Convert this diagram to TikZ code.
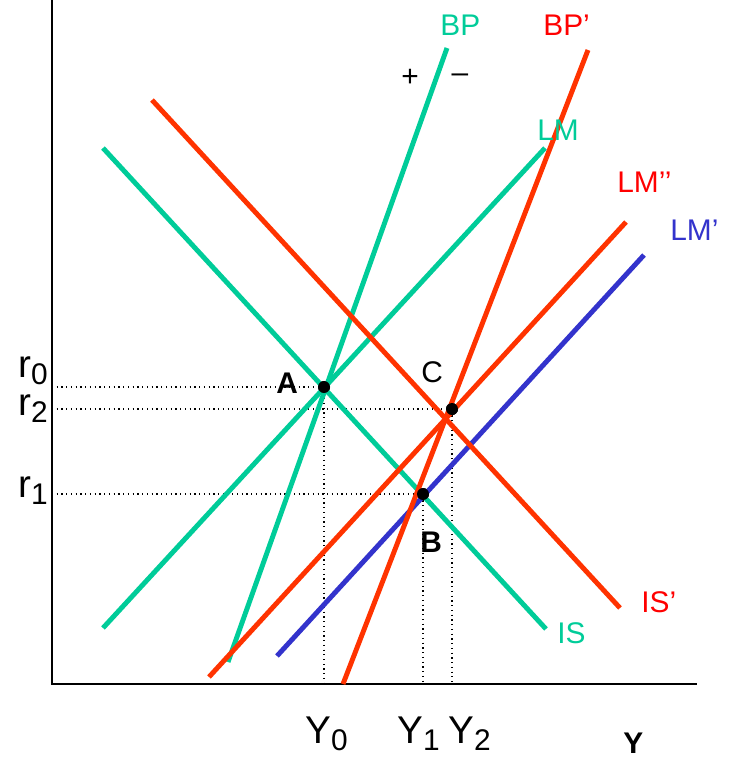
\documentclass[tikz,border=0pt]{standalone}
\usepackage{fontspec}
\setmainfont{Liberation Sans}
\usetikzlibrary{positioning}
\definecolor{curvegreen}{RGB}{0,204,153}
\definecolor{curvered}{RGB}{255,51,0}
\definecolor{labelred}{RGB}{255,0,0}
\definecolor{curveblue}{RGB}{51,51,204}
\newcommand{\lowsub}[1]{\raisebox{-4.5pt}{\fontsize{17}{20}\selectfont #1}}

\begin{document}
\begin{tikzpicture}[
    x=0.02cm, y=-0.02cm,
    curve/.style={line width=2.8pt},
    guide/.style={dotted, line width=0.7pt},
    eqpt/.style={circle, fill=black, inner sep=0pt, minimum size=0.24cm},
    lbl/.style={anchor=base west, inner sep=0pt, font=\fontsize{17}{20}\selectfont},
    axlbl/.style={anchor=base west, inner sep=0pt, font=\fontsize{22}{26}\selectfont},
]
    \useasboundingbox (0,0) rectangle (728,758);

    % axes
    \coordinate (origin) at (52,684);
    \coordinate (ytop) at (52,0);
    \coordinate (xend) at (697,684);
    \draw[line width=1.1pt] (ytop) -- (origin) -- (xend);

    % curve ends
    \coordinate (is0) at (103,148);   \coordinate (is1) at (546,629);
    \coordinate (isp0) at (152,100);  \coordinate (isp1) at (620,608);
    \coordinate (lm0) at (103,628);   \coordinate (lm1) at (545,148);
    \coordinate (lmpp0) at (209,677); \coordinate (lmpp1) at (626,222);
    \coordinate (lmp0) at (277,656);  \coordinate (lmp1) at (644,255);
    \coordinate (bp0) at (228,662);   \coordinate (bp1) at (447,48);
    \coordinate (bpp0) at (343,684);  \coordinate (bpp1) at (588,50);

    % equilibria
    \node[eqpt] (A) at (324,387) {};
    \node[eqpt] (C) at (452,409) {};
    \node[eqpt] (B) at (423,494) {};

    % guide lines
    \draw[guide] (A -| origin) -- (A);
    \draw[guide] (C -| origin) -- (C);
    \draw[guide] (B -| origin) -- (B);
    \draw[guide] (A) -- (A |- origin);
    \draw[guide] (B) -- (B |- origin);
    \draw[guide] (C) -- (C |- origin);

    % curves
    \draw[curve, curvegreen] (is0) -- (is1);
    \draw[curve, curvegreen] (lm0) -- (lm1);
    \draw[curve, curvegreen] (bp0) -- (bp1);
    \draw[curve, curveblue] (lmp0) -- (lmp1);
    \draw[curve, curvered] (isp0) -- (isp1);
    \draw[curve, curvered] (lmpp0) -- (lmpp1);
    \draw[curve, curvered] (bpp0) -- (bpp1);

    \node[eqpt] at (A) {};
    \node[eqpt] at (C) {};
    \node[eqpt] at (B) {};

    % curve labels
    \node[lbl, text=curvegreen] (bplbl) at (440,35) {BP};
    \node[lbl, text=labelred] (bpplbl) at (543,35) {BP’};
    \node[font=\fontsize{17}{20}\selectfont] (plus) at (410,78) {+};
    \node[font=\fontsize{17}{20}\selectfont] (minus) at (460,78) {–};
    \node[lbl, text=curvegreen] (lmlbl) at (537,140) {LM};
    \node[lbl, text=labelred] (lmpplbl) at (617,192) {LM’’};
    \node[lbl, text=curveblue] (lmplbl) at (670,240) {LM’};
    \node[lbl, text=labelred] (isplbl) at (641,612) {IS’};
    \node[lbl, text=curvegreen] (islbl) at (557,643) {IS};

    % point labels
    \node[lbl, font=\fontsize{17}{20}\selectfont\bfseries] (Albl) at (276,393) {A};
    \node[lbl] (Clbl) at (421,382) {C};
    \node[lbl, font=\fontsize{17}{20}\selectfont\bfseries] (Blbl) at (420,552) {B};

    % axis labels
    \node[axlbl] (r0) at (18,377) {r\lowsub{0}};
    \node[axlbl] (r2) at (18,415) {r\lowsub{2}};
    \node[axlbl] (r1) at (18,497) {r\lowsub{1}};
    \node[axlbl] (y0) at (305,743) {Y\lowsub{0}};
    \node[axlbl] (y1) at (397,743) {Y\lowsub{1}};
    \node[axlbl] (y2) at (448,743) {Y\lowsub{2}};
    \node[lbl, font=\fontsize{17}{20}\selectfont\bfseries] (ylbl) at (623,753) {Y};
\end{tikzpicture}
\end{document}
